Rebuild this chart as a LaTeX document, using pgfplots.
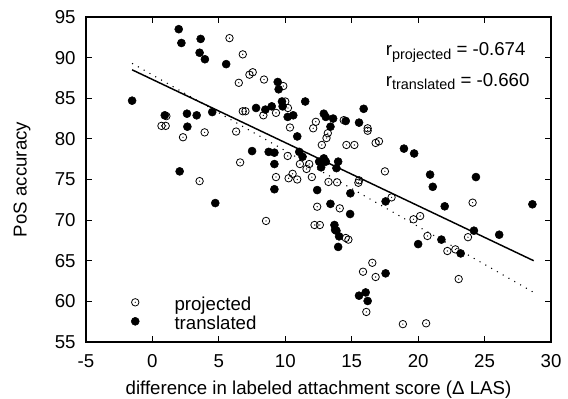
\documentclass[border=0pt]{standalone}
\usepackage{fontspec}
\setmainfont{Liberation Sans}
\usepackage{pgfplots}
\pgfplotsset{compat=1.18}
\pgfdeclareplotmark{circdot}{%
  \pgfpathcircle{\pgfpointorigin}{\pgfplotmarksize}\pgfusepathqstroke
  \pgfpathcircle{\pgfpointorigin}{0.5pt}\pgfusepathqfill}
\newcommand{\fs}{\fontsize{14}{16}\selectfont}
\newcommand{\sub}[1]{\raisebox{-2.5pt}{\fontsize{10.8}{12}\selectfont #1}}
\begin{document}
\begin{tikzpicture}
\begin{axis}[
  scale only axis, width=348.75pt, height=243.75pt,
  xmin=-5, xmax=30, ymin=55, ymax=95,
  xtick={-5,0,...,30}, ytick={55,60,...,95},
  tick align=inside, major tick length=4.5pt,
  axis line style={line width=0.9pt},
  every tick/.style={line width=0.9pt, black},
  /pgf/number format/assume math mode=true,
  tick label style={font=\fs},
  xticklabel style={anchor=base, yshift=-19.3pt},
  yticklabel style={xshift=-4.3pt},
  label style={font=\fs},
  xlabel={difference in labeled attachment score (Δ LAS)},
  ylabel={PoS accuracy},
  xlabel style={at={(axis description cs:0.5,-0.163)}, anchor=base},
  ylabel style={at={(axis description cs:-0.1376,0.5)}, anchor=center},
  legend cell align=left,
  legend style={draw=none, fill=none, font=\fs, inner sep=0pt, outer sep=0pt,
    nodes={inner sep=0pt, text height=10pt, text depth=4.25pt},
    at={(rel axis cs:0.091,0.139)}, anchor=north west, row sep=0pt},
  legend image code/.code={\path (0pt,0pt) (34.25pt,0pt); \draw[#1] plot coordinates {(5pt,3pt)};},
]
\coordinate (SW) at (rel axis cs:0,0);
\coordinate (NE) at (rel axis cs:1,1);
\addplot[only marks, mark=circdot, mark size=2.8pt, mark options={line width=0.6pt, black}] coordinates {
(5.8,92.4) (6.8,90.4) (7.55,88.2) (7.3,87.9) (6.5,86.9) (8.4,87.3) (9.85,86.5)
(1.05,82.8) (0.68,81.6) (1.0,81.6) (2.3,80.2) (3.93,80.8) (6.3,80.9) (6.6,77.1)
(3.55,74.8) (6.8,83.4) (7.0,83.4) (8.35,82.9) (9.3,83.2) (10.0,84.6) (10.2,83.8)
(10.35,81.4) (12.3,82.1) (14.4,82.3) (12.1,81.3) (16.2,81.3) (13.2,80.7) (13.1,80.1)
(12.75,79.25) (14.6,79.25) (15.2,79.25) (16.2,81.0) (16.8,79.5) (17.05,79.7)
(10.18,77.9) (11.1,76.9) (11.8,76.9) (11.6,76.3) (9.3,75.3) (10.55,75.7) (10.25,75.15)
(10.9,75.0) (12.0,75.3) (13.25,74.7) (13.9,74.65) (15.55,74.9) (15.5,74.6) (17.5,76.0)
(12.4,71.65) (14.1,71.45) (8.55,69.9) (12.2,69.4) (12.6,69.4) (14.55,67.8) (14.75,67.6)
(16.55,64.75) (15.85,63.65) (16.8,63.0) (16.1,58.7) (18.0,72.8) (24.1,72.15)
(19.65,70.1) (20.15,70.5) (20.7,68.05) (22.2,66.2) (22.8,66.4) (23.75,67.9)
(23.05,62.75) (18.85,57.2) (20.6,57.3)
};
\addlegendentry{projected}
\addplot[only marks, mark=*, mark size=3.0pt, mark options={black, fill=black}] coordinates {
(1.98,93.5) (2.18,91.8) (3.63,92.3) (3.55,90.6) (3.95,89.8) (5.55,89.2) (-1.53,84.7)
(0.93,82.9) (2.6,83.1) (3.33,82.9) (4.5,83.3) (2.63,81.5) (2.05,76.0) (4.73,72.1)
(9.43,87.0) (9.5,86.1) (11.5,84.6) (7.8,83.8) (8.5,83.6) (8.98,84.0) (9.75,84.6)
(9.8,84.0) (10.18,82.7) (10.6,82.9) (12.9,83.1) (13.05,82.7) (13.6,82.5) (14.55,82.2)
(15.55,82.0) (15.9,83.7) (13.4,81.5) (10.9,80.3) (7.5,78.5) (8.75,78.4) (9.18,78.3)
(11.05,78.4) (11.3,77.8) (12.55,77.2) (12.9,77.6) (13.05,77.2) (12.7,76.5) (13.98,77.2)
(13.85,76.4) (9.18,76.9) (9.18,73.8) (12.4,73.7) (14.9,73.3) (17.55,72.3) (13.4,72.0)
(14.88,70.75) (13.7,69.4) (13.75,68.8) (13.85,68.7) (14.05,68.0) (13.98,66.7)
(17.55,63.45) (15.55,60.7) (16.05,61.1) (16.2,60.05) (20.0,67.05) (21.75,67.6)
(23.2,65.9) (24.2,68.7) (26.1,68.2) (18.93,78.8) (19.7,78.2) (20.9,75.6) (21.1,74.1)
(24.35,75.3) (22.0,71.7) (28.6,71.95)
};
\addlegendentry{translated}
\addplot[black, line width=1.1pt, forget plot] coordinates {(-1.53,88.5) (28.7,65.0)};
\addplot[black, line width=0.8pt, dash pattern=on 0.8pt off 4.2pt, forget plot] coordinates {(-1.53,89.3) (28.7,61.1)};
\node[anchor=base west, inner sep=0pt, font=\fs] at (axis cs:17.55,90.2) {r\sub{projected} = -0.674};
\node[anchor=base west, inner sep=0pt, font=\fs] at (axis cs:17.55,86.5) {r\sub{translated} = -0.660};
\end{axis}
\pgfresetboundingbox
\path ([shift={(-64.5pt,-42pt)}]SW) rectangle ([shift={(12.75pt,12.75pt)}]NE);
\end{tikzpicture}
\end{document}
